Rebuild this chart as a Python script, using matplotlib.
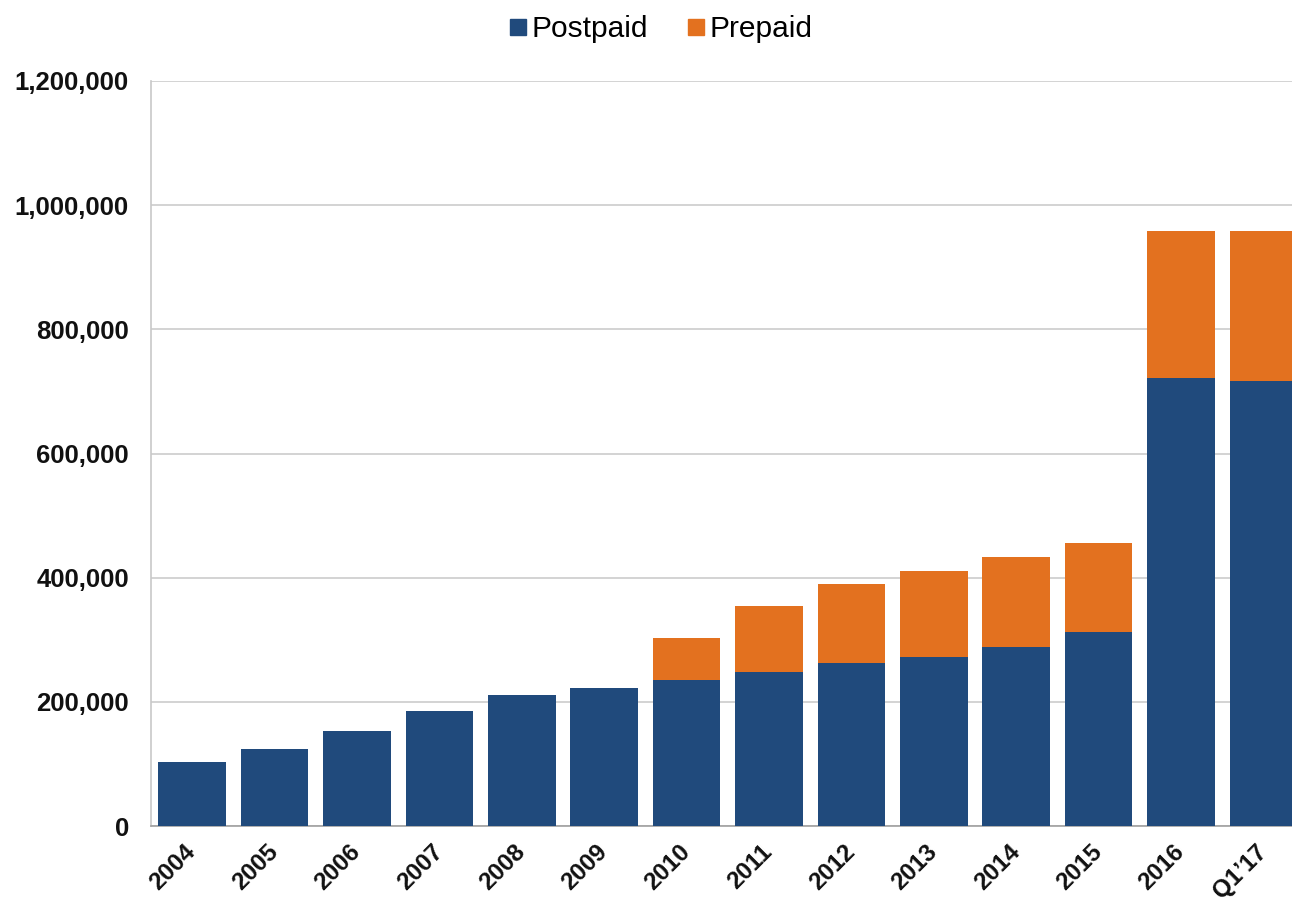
import matplotlib
matplotlib.use("Agg")
import matplotlib.pyplot as plt
from matplotlib.lines import Line2D
from matplotlib.ticker import FuncFormatter

# data
years = ["2004", "2005", "2006", "2007", "2008", "2009", "2010",
         "2011", "2012", "2013", "2014", "2015", "2016", "Q1\u201917"]
postpaid = [103000, 124000, 153000, 186000, 211000, 222000, 235000,
            248000, 263000, 273000, 288000, 313000, 722000, 716000]
prepaid = [0, 0, 0, 0, 0, 0, 68000,
           107000, 127000, 138000, 145000, 143000, 236000, 243000]

BLUE = "#204A7C"
ORANGE = "#E3711F"

plt.rcParams["font.family"] = ["Liberation Sans", "DejaVu Sans"]

fig = plt.figure(figsize=(12.92, 9.02), dpi=100)
ax = fig.add_axes([151 / 1292, 76 / 902, 1 - 151 / 1292, 745 / 902])

x = list(range(len(years)))
ax.bar(x, postpaid, width=0.82, color=BLUE, zorder=3)
ax.bar(x, prepaid, width=0.82, bottom=postpaid, color=ORANGE, zorder=3)

ax.set_ylim(0, 1200000)
ax.set_xlim(-0.5, -0.5 + (1292 - 151) / 82.4)
ax.set_yticks(range(0, 1200001, 200000))
ax.yaxis.set_major_formatter(FuncFormatter(lambda v, p: f"{int(v):,}"))
ax.yaxis.grid(True, color="#CCCCCC", linewidth=1.2, zorder=0)
ax.set_axisbelow(True)

ax.set_xticks(x)
ax.set_xticklabels(years, rotation=45, ha="right", va="center",
                   rotation_mode="anchor")
ax.tick_params(axis="both", length=0)
ax.tick_params(axis="y", pad=16, labelsize=18.5)
ax.tick_params(axis="x", pad=16, labelsize=17.5)
for lbl in ax.get_xticklabels() + ax.get_yticklabels():
    lbl.set_fontweight("bold")
    lbl.set_color("#111111")

for side in ["top", "right"]:
    ax.spines[side].set_visible(False)
ax.spines["left"].set_color("#C8C8C8")
ax.spines["left"].set_linewidth(1.2)
ax.spines["bottom"].set_color("#A0A0A0")
ax.spines["bottom"].set_linewidth(1.2)

handles = [
    Line2D([], [], marker="s", linestyle="none", markersize=11, color=BLUE),
    Line2D([], [], marker="s", linestyle="none", markersize=11, color=ORANGE),
]
fig.legend(handles, ["Postpaid", "Prepaid"], loc="center",
           bbox_to_anchor=(659 / 1292, 1 - 29 / 902), ncol=2, frameon=False,
           fontsize=21.5, handletextpad=0.05, columnspacing=1.2,
           handlelength=0.8)

fig.savefig("out.png", dpi=100)
